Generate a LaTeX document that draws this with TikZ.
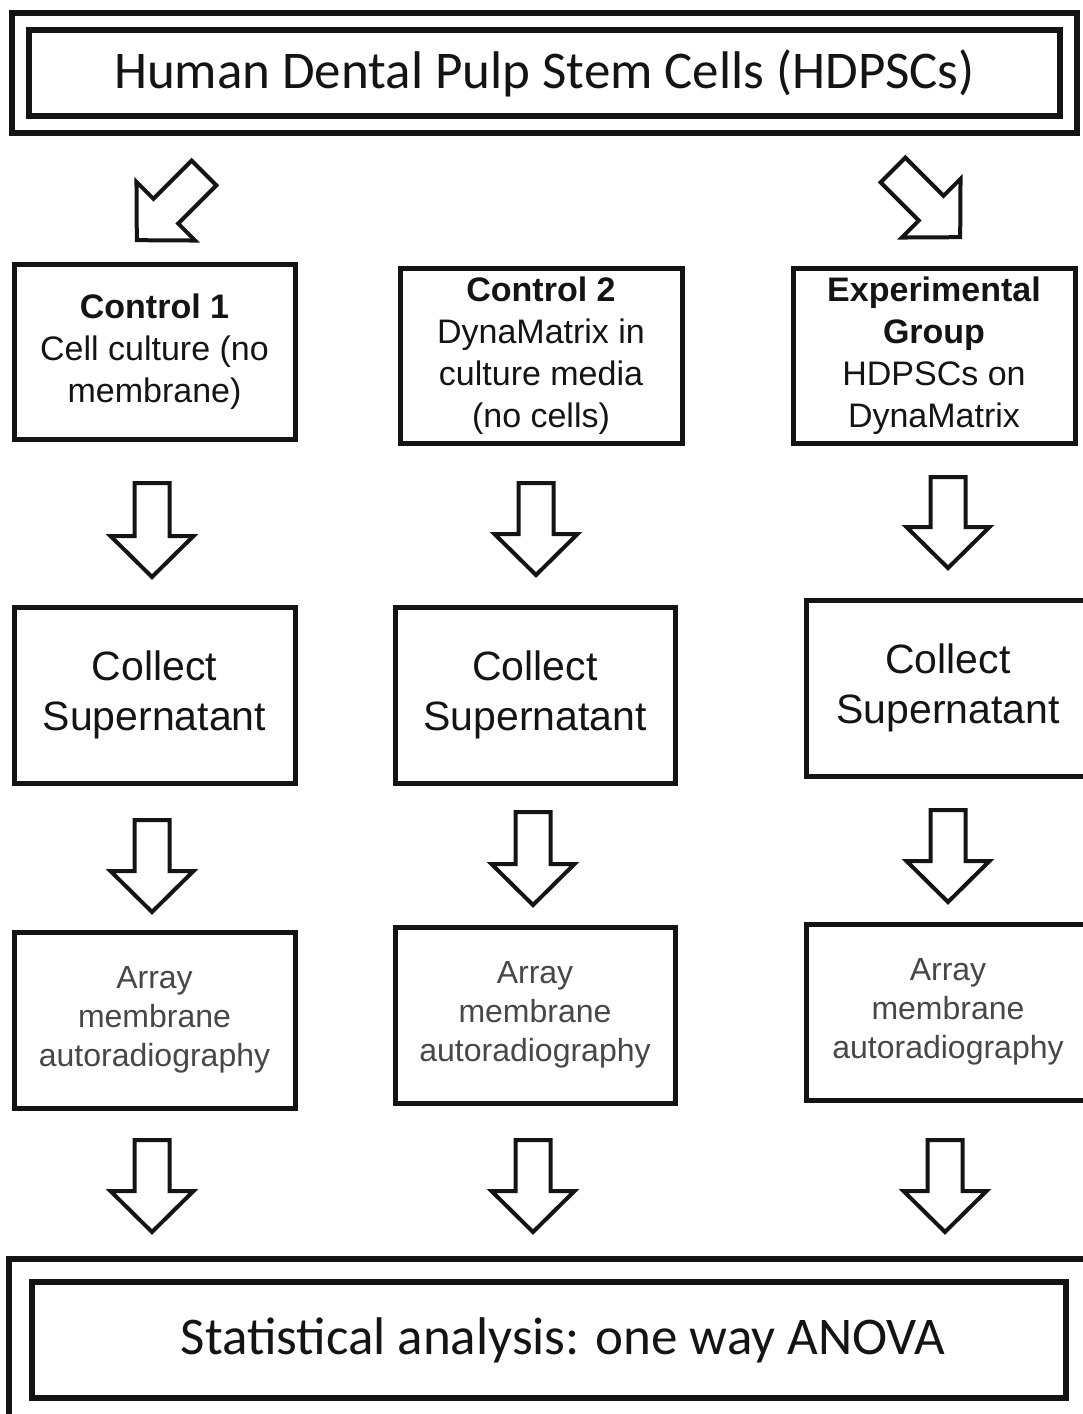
\documentclass[tikz,border=0pt]{standalone}
\usepackage{fontspec}
\setmainfont{Liberation Sans}
\newfontfamily\calib{Carlito}
\usetikzlibrary{calc}
\definecolor{ink}{HTML}{141414}
\begin{document}
\begin{tikzpicture}[x=1pt,y=-1pt,
  box/.style={draw=ink, line width=5pt, align=center, inner sep=0pt, text=ink},
  colbox/.style={box, minimum width=281pt, minimum height=175pt},
  grpfont/.style={font=\fontsize{34}{42}\selectfont},
  colfont/.style={font=\fontsize{41}{50}\selectfont},
  arrfont/.style={font=\fontsize{32}{39}\selectfont, text=black!72},
  bigbox/.style={draw=ink, line width=6pt, inner sep=0pt, font=\calib\fontsize{53}{60}\selectfont, text=ink},
  arrowline/.style={draw=ink, fill=white, line width=4pt, line join=miter},
  pics/barrow/.style={code={
    \draw[arrowline] (-17.5,0) -- (-17.5,#1-41) -- (-41.5,#1-41) -- (0,#1)
      -- (41.5,#1-41) -- (17.5,#1-41) -- (17.5,0) -- cycle;}}
]
\useasboundingbox[fill=white] (0,0) rectangle (1083,1414);

% top double box
\node[bigbox, minimum width=1031pt, minimum height=86pt] (top) at (544.5,73)
  {Human Dental Pulp Stem Cells (HDPSCs)};
\draw[draw=ink, line width=6pt] ($(top.north west)+(-14,-14)$) rectangle ($(top.south east)+(14,14)$);

% groups
\node[colbox, grpfont] (c1) at (154.5,351.5) {\textbf{Control 1}\\Cell culture (no\\membrane)};
\node[colbox, grpfont, minimum width=282pt] (c2) at (541,355.5) {\textbf{Control 2}\\DynaMatrix in\\culture media\\(no cells)};
\node[colbox, grpfont, minimum width=282pt] (c3) at (934,355.5) {\textbf{Experimental}\\\textbf{Group}\\HDPSCs on\\DynaMatrix};

% collect supernatant
\node[colbox, colfont, minimum height=176pt] (s1) at (154.5,695) {Collect\\Supernatant};
\node[colbox, colfont, minimum height=176pt, minimum width=280pt] (s2) at (535,695) {Collect\\Supernatant};
\node[colbox, colfont, minimum height=176pt, minimum width=284pt] (s3) at (948,688) {Collect\\Supernatant};

% array
\node[colbox, arrfont, minimum height=176pt] (a1) at (154.5,1020) {Array\\membrane\\autoradiography};
\node[colbox, arrfont, minimum height=176pt, minimum width=280pt] (a2) at (535,1015) {Array\\membrane\\autoradiography};
\node[colbox, arrfont, minimum height=176pt, minimum width=284pt] (a3) at (948,1012) {Array\\membrane\\autoradiography};

% final double box
\node[bigbox, minimum width=1034pt, minimum height=116pt] (fin) at (549,1340)
  {\hspace*{28pt}Statistical analysis: one way ANOVA};
\draw[draw=ink, line width=6pt] ($(fin.north west)+(-20,-20)$) rectangle ($(fin.south east)+(40,40)$);

% diagonal arrows
\pic[rotate=-45] at ($(top.south west)+(178,54)$) {barrow=95};
\pic[rotate=45] at ($(top.south east)+(-170,51)$) {barrow=95};

% vertical arrows
\pic at ($(c1.south)+(-2.5,41.5)$) {barrow=94};
\pic at ($(c2.south)+(-5,37.5)$) {barrow=92};
\pic at ($(c3.south)+(14,31.5)$) {barrow=91};

\pic at ($(s1.south)+(-2.5,34.5)$) {barrow=92};
\pic at ($(s2.south)+(-2,26.5)$) {barrow=93};
\pic at ($(s3.south)+(0,31.5)$) {barrow=92};

\pic at ($(a1.south)+(-2.5,29.5)$) {barrow=92};
\pic at ($(a2.south)+(-2,34.5)$) {barrow=92};
\pic at ($(a3.south)+(-3,37.5)$) {barrow=92};
\end{tikzpicture}
\end{document}
